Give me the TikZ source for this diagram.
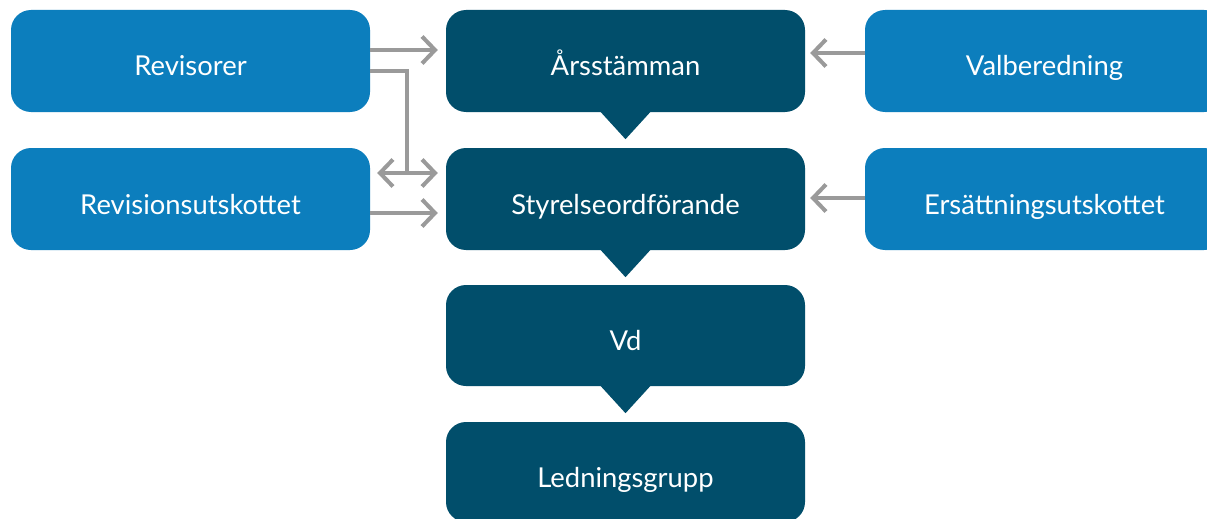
\documentclass[tikz,border=0pt]{standalone}
\usepackage{fontspec}
\setmainfont{Lato}
\usetikzlibrary{arrows.meta}
\definecolor{lightb}{HTML}{0C7EBD}
\definecolor{darkb}{HTML}{014E6B}
\definecolor{arrgray}{HTML}{9A9A9A}
\begin{document}
\begin{tikzpicture}[x=1pt,y=-1pt,
  box/.style={rectangle, rounded corners=20pt, minimum width=359pt, minimum height=102pt,
    inner sep=0pt, text=white, text height=34pt, text depth=4pt,
    font=\fontsize{27.4}{32}\selectfont},
  side/.style={box, fill=lightb},
  main/.style={box, fill=darkb},
  gline/.style={draw=arrgray, line width=4pt},
  arr/.style={gline, -{Straight Barb[length=13pt,width=27pt]}},
  arrb/.style={gline, {Straight Barb[length=13pt,width=27pt]}-{Straight Barb[length=13pt,width=27pt]}}]
\fill[white] (0,0) rectangle (1207,519);
\useasboundingbox (0,0) rectangle (1207,519);
\begin{scope}
\clip (0,0) rectangle (1207,519);
\node[side] (rev)  at (190.5,61)  {Revisorer};
\node[side] (revu) at (190.5,199) {Revisionsutskottet};
\node[main] (ars)  at (625.5,61)  {Årsstämman};
\node[main] (sty)  at (625.5,199) {Styrelseordförande};
\node[main, minimum height=101pt] (vd) at (625.5,335.5) {Vd};
\node[main, minimum height=100pt] (led) at (625.5,472) {Ledningsgrupp};
\node[side] (val)  at (1044.5,61)  {Valberedning};
\node[side] (ers)  at (1044.5,199) {Ersättningsutskottet};
\end{scope}
% pointers
\foreach \n in {ars,sty,vd}{
  \fill[darkb] ([xshift=-26.5pt,yshift=2pt]\n.south) -- ([xshift=26.5pt,yshift=2pt]\n.south)
     -- ([yshift=-27pt]\n.south) -- cycle;
}
% left arrows
\draw[arr] ([yshift=11pt]rev.east) -- ([xshift=-8pt,yshift=11pt]rev.east -| ars.west);
\coordinate (jL) at ([xshift=7pt,yshift=26pt]revu.east);
\coordinate (jR) at ([xshift=-8pt,yshift=26pt]revu.east -| sty.west);
\coordinate (jT) at ([xshift=37pt,yshift=-10pt]rev.east);
\draw[gline] ([yshift=-10pt]rev.east) -- (jT) -- (jT |- jL);
\draw[arrb] (jL) -- (jR);
\draw[arr] ([yshift=-14pt]revu.east) -- ([xshift=-8pt,yshift=-14pt]revu.east -| sty.west);
% right arrows
\draw[arr] ([yshift=8pt]val.west) -- ([xshift=5pt,yshift=8pt]val.west -| ars.east);
\draw[arr] ([yshift=1pt]ers.west) -- ([xshift=5pt,yshift=1pt]ers.west -| sty.east);
\end{tikzpicture}
\end{document}
